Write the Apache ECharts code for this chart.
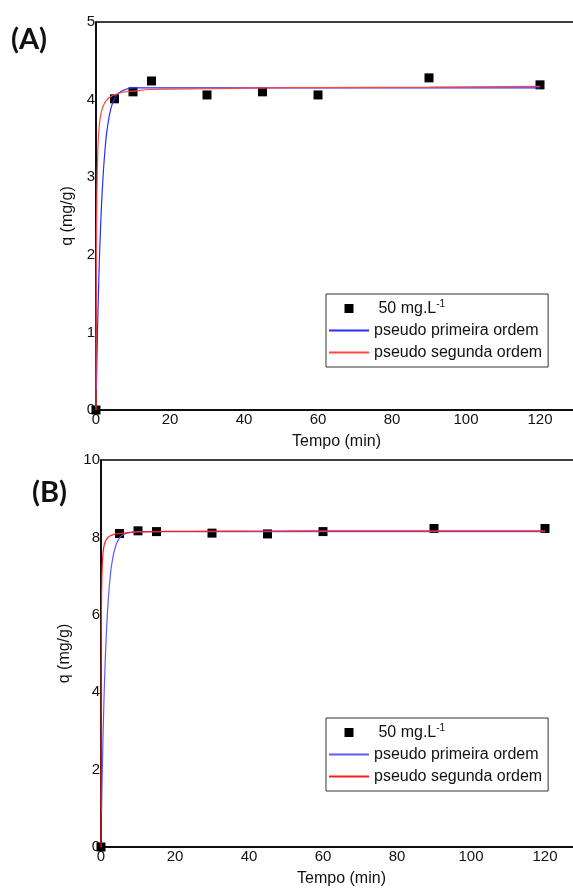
<!DOCTYPE html>
<html>
<head>
<meta charset="utf-8">
<script src="https://cdn.jsdelivr.net/npm/echarts@6/dist/echarts.min.js"></script>
<style>
html, body { margin: 0; padding: 0; background: #fff; }
#chart { width: 573px; height: 890px; }
</style>
</head>
<body>
<div id="chart"></div>
<script>
// data
var tempo = [0, 5, 10, 15, 30, 45, 60, 90, 120];
var qA = [0, 4.01, 4.10, 4.24, 4.06, 4.10, 4.06, 4.28, 4.19];
var qB = [0, 8.10, 8.17, 8.15, 8.11, 8.09, 8.15, 8.23, 8.23];

// fitted curves
var tFitA1 = [0.1, 0.25, 0.5, 0.75, 1, 1.5, 2, 2.5, 3, 4, 5, 6, 8, 10, 15, 20, 30, 45, 60, 90, 120];
var pfoA = [0.27, 0.65, 1.20, 1.66, 2.05, 2.65, 3.08, 3.39, 3.61, 3.88, 4.01, 4.08, 4.13, 4.15, 4.15, 4.15, 4.15, 4.15, 4.15, 4.15, 4.15];
var tFitA2 = [0, 0.1, 0.25, 0.5, 0.75, 1, 1.5, 2, 2.5, 3, 4, 5, 6, 8, 10, 15, 20, 30, 45, 60, 90, 120];
var psoA = [0, 1.88, 2.80, 3.35, 3.58, 3.71, 3.85, 3.92, 3.97, 4.00, 4.04, 4.06, 4.08, 4.10, 4.11, 4.13, 4.135, 4.14, 4.15, 4.155, 4.16, 4.17];

var tFitB1 = [0.15, 0.25, 0.5, 0.75, 1, 1.5, 2, 2.5, 3, 4, 5, 6, 8, 10, 15, 20, 30, 45, 60, 90, 120];
var pfoB = [0.90, 1.44, 2.63, 3.61, 4.41, 5.62, 6.44, 6.99, 7.37, 7.79, 7.99, 8.07, 8.13, 8.15, 8.15, 8.15, 8.15, 8.15, 8.15, 8.15, 8.15];
var tFitB2 = [0, 0.05, 0.1, 0.25, 0.5, 0.75, 1, 1.5, 2, 3, 4, 5, 6, 8, 10, 15, 20, 30, 45, 60, 90, 120];
var psoB = [0, 4.48, 5.79, 7.02, 7.55, 7.74, 7.85, 7.95, 8.01, 8.06, 8.09, 8.10, 8.11, 8.13, 8.14, 8.15, 8.155, 8.16, 8.165, 8.17, 8.17, 8.17];

var xTicks = [0, 130, 20];
var yTicksA = [0, 5, 1];
var yTicksB = [0, 10, 2];

var legendNames = ['50 mg.L', 'pseudo primeira ordem', 'pseudo segunda ordem'];

function pairs(xs, ys) {
    return xs.map(function (x, i) { return [x, ys[i]]; });
}

var font = 'Liberation Sans, Arial, sans-serif';

function xAxisOf(idx) {
    return {
        gridIndex: idx, type: 'value',
        min: xTicks[0], max: xTicks[1], interval: xTicks[2],
        name: 'Tempo (min)', nameLocation: 'middle', nameGap: 24,
        nameTextStyle: { color: '#111', fontSize: 16, fontFamily: font },
        axisLine: { show: true, lineStyle: { color: '#000', width: 1.5 } },
        axisTick: { show: false },
        splitLine: { show: false },
        axisLabel: { color: '#111', fontSize: 15, fontFamily: font, margin: 2, showMaxLabel: false }
    };
}
function yAxisOf(idx, t) {
    return {
        gridIndex: idx, type: 'value',
        min: t[0], max: t[1], interval: t[2],
        name: 'q (mg/g)', nameLocation: 'middle', nameGap: 20,
        nameTextStyle: { color: '#111', fontSize: 16, fontFamily: font },
        axisLine: { show: true, lineStyle: { color: '#000', width: 1.5 } },
        axisTick: { show: false },
        splitLine: { show: false },
        axisLabel: { color: '#111', fontSize: 15, fontFamily: font, margin: 1 }
    };
}
function legendOf(idx, top) {
    var hidden = { color: 'rgba(0,0,0,0)', borderWidth: 0 };
    return {
        orient: 'vertical', left: 326, top: top,
        width: 243,
        padding: [5, 6, 5, 2],
        borderColor: '#333', borderWidth: 1,
        itemWidth: 40, itemHeight: 9, itemGap: 3,
        symbolKeepAspect: true,
        textStyle: {
            color: '#111', fontSize: 16, fontFamily: font, lineHeight: 19,
            rich: {
                a: { fontSize: 16, fontFamily: font, color: '#111' },
                s: { fontSize: 10, fontFamily: font, color: '#111', padding: [0, 0, 9, 0] }
            }
        },
        formatter: function (name) {
            var n = name.replace(/ \(.\)$/, '');
            if (n === legendNames[0]) return '{a| ' + n + '}{s|-1}';
            return '{a|' + n + '}';
        },
        data: [
            { name: legendNames[0] + ' (' + idx + ')', icon: 'path://M0,0L10,0L10,10L0,10Z' },
            { name: legendNames[1] + ' (' + idx + ')', itemStyle: hidden },
            { name: legendNames[2] + ' (' + idx + ')', itemStyle: hidden }
        ]
    };
}

var chart = echarts.init(document.getElementById('chart'));
chart.setOption({
    animation: false,
    grid: [
        { left: 96, top: 22, height: 388, right: -4, outerBoundsMode: 'none', show: true, borderColor: '#000', borderWidth: 1.5 },
        { left: 101, top: 460, height: 387, right: -9, outerBoundsMode: 'none', show: true, borderColor: '#000', borderWidth: 1.5 }
    ],
    xAxis: [xAxisOf(0), xAxisOf(1)],
    yAxis: [yAxisOf(0, yTicksA), yAxisOf(1, yTicksB)],
    legend: [legendOf('A', 294), legendOf('B', 718)],
    graphic: [
        { type: 'text', left: 11, top: 25, style: { text: '(A)', fontSize: 29, fontWeight: 'bold', fontFamily: 'Lato, Open Sans, sans-serif', fill: '#111' } },
        { type: 'text', left: 32, top: 478, style: { text: '(B)', fontSize: 29, fontWeight: 'bold', fontFamily: 'Lato, Open Sans, sans-serif', fill: '#111' } }
    ],
    series: [
        { name: legendNames[1] + ' (A)', type: 'line', xAxisIndex: 0, yAxisIndex: 0, symbol: 'none', smooth: true,
          lineStyle: { color: '#2b2bff', width: 1.2 }, itemStyle: { color: '#2b2bff' }, data: pairs(tFitA1, pfoA) },
        { name: legendNames[2] + ' (A)', type: 'line', xAxisIndex: 0, yAxisIndex: 0, symbol: 'none', smooth: true,
          lineStyle: { color: '#ff4545', width: 1.2 }, itemStyle: { color: '#ff4545' }, data: pairs(tFitA2, psoA) },
        { name: legendNames[0] + ' (A)', type: 'scatter', xAxisIndex: 0, yAxisIndex: 0, symbol: 'rect', symbolSize: 9,
          itemStyle: { color: '#000', opacity: 1 }, data: pairs(tempo, qA) },
        { name: legendNames[1] + ' (B)', type: 'line', xAxisIndex: 1, yAxisIndex: 1, symbol: 'none', smooth: true,
          lineStyle: { color: '#5a5aff', width: 1.2 }, itemStyle: { color: '#5a5aff' }, data: pairs(tFitB1, pfoB) },
        { name: legendNames[2] + ' (B)', type: 'line', xAxisIndex: 1, yAxisIndex: 1, symbol: 'none', smooth: true,
          lineStyle: { color: '#ff1a1a', width: 1.2 }, itemStyle: { color: '#ff1a1a' }, data: pairs(tFitB2, psoB) },
        { name: legendNames[0] + ' (B)', type: 'scatter', xAxisIndex: 1, yAxisIndex: 1, symbol: 'rect', symbolSize: 9,
          itemStyle: { color: '#000', opacity: 1 }, data: pairs(tempo, qB) }
    ]
});
</script>
</body>
</html>
